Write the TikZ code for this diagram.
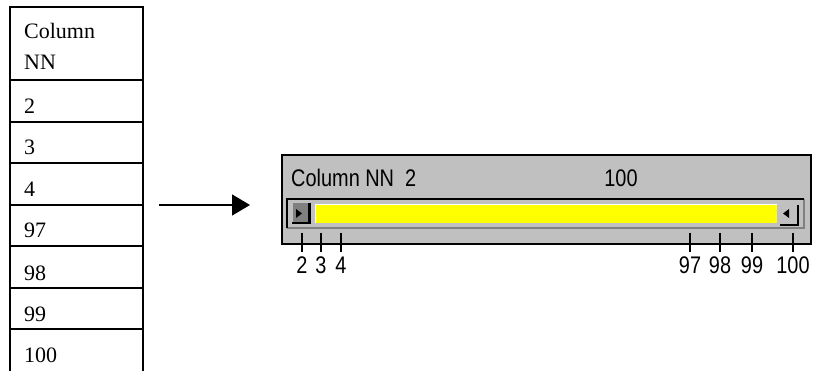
\documentclass[tikz,border=0pt]{standalone}
\usepackage{fontspec}
\setmainfont{Liberation Serif}
\newfontfamily\uifont[FakeStretch=0.83]{Liberation Sans}
\usetikzlibrary{arrows.meta}
\definecolor{wingray}{RGB}{192,192,192}
\definecolor{windark}{RGB}{128,128,128}
\definecolor{winyellow}{RGB}{255,255,0}
\begin{document}
\begin{tikzpicture}[x=1pt,y=-1pt,
  cell/.style={draw, line width=1.6pt, rectangle, minimum width=133pt, inner sep=0pt},
  celltext/.style={anchor=base west, inner sep=0pt, font=\fontsize{22}{26}\selectfont},
  uitext/.style={inner sep=0pt, font=\uifont\fontsize{24}{28}\selectfont},
  tick/.style={line width=1.2pt}]
\useasboundingbox (0,0) rectangle (819,371);
% table
\node[cell, minimum height=73pt] (cell0) at (76.5,43.5){};
\node[cell, minimum height=42pt] (cell1) at (76.5,101){};
\node[cell, minimum height=41pt] (cell2) at (76.5,142.5){};
\node[cell, minimum height=42pt] (cell3) at (76.5,184){};
\node[cell, minimum height=41pt] (cell4) at (76.5,225.5){};
\node[cell, minimum height=42pt] (cell5) at (76.5,267){};
\node[cell, minimum height=41pt] (cell6) at (76.5,308.5){};
\node[cell, minimum height=46pt] (cell7) at (76.5,352){};
\node[celltext] (head1) at (24,39){Column};
\node[celltext] (head2) at (24,70){NN};
\node[celltext] (val2) at (24,114){2};
\node[celltext] (val3) at (24,155){3};
\node[celltext] (val4) at (24,197){4};
\node[celltext] (val97) at (24,238){97};
\node[celltext] (val98) at (24,280){98};
\node[celltext] (val99) at (24,321){99};
\node[celltext] (val100) at (24,362){100};
% arrow
\coordinate (arrowtail) at (159,205);
\coordinate (arrowtip) at (250,205);
\draw[line width=1.3pt, -{Triangle[length=18pt,width=21pt]}](arrowtail) -- (arrowtip);
% scroll bar
\node[draw, line width=1.8pt, fill=wingray, minimum width=529pt, minimum height=89pt, inner sep=0pt] (panel) at (546.5,199.5){};
\node[uitext, anchor=base west] (title) at (291,187){Column NN\ \ 2};
\node[uitext, anchor=base] (maxval) at (621,187){100};
\node[fill=wingray, minimum width=517pt, minimum height=29pt, inner sep=0pt] (track) at (545.5,213.5){};
\draw[line width=1.5pt, windark](track.south west) -- (track.south east) -- (track.north east);
\draw[line width=1.5pt](track.south west) -- (track.north west) -- (track.north east);
\node[fill=winyellow, minimum width=461pt, minimum height=18pt, inner sep=0pt] (bar) at (546.5,214){};
\draw[line width=1pt, white](bar.south west) -- (bar.north west) -- (bar.north east);
\node[fill=windark, minimum width=17pt, minimum height=20pt, inner sep=0pt] (leftbtn) at (301,213){};
\draw[line width=2.5pt](leftbtn.north east) -- (leftbtn.south east) -- (leftbtn.south west);
\fill (296,209) -- (302,213.5) -- (296,218) -- cycle;
\node[fill=wingray, minimum width=18pt, minimum height=20pt, inner sep=0pt] (rightbtn) at (789,215){};
\draw[line width=2.5pt](rightbtn.north east) -- (rightbtn.south east) -- (rightbtn.south west);
\fill (783,213.5) -- (789,209) -- (789,218) -- cycle;
% ticks
\coordinate (tick2) at (302,233);
\coordinate (tick3) at (321,233);
\coordinate (tick4) at (341,233);
\coordinate (tick97) at (690,233);
\coordinate (tick98) at (720,233);
\coordinate (tick99) at (752,233);
\coordinate (tick100) at (793,233);
\draw[tick](tick2) -- ++(0,19);
\draw[tick](tick3) -- ++(0,19);
\draw[tick](tick4) -- ++(0,19);
\draw[tick](tick97) -- ++(0,19);
\draw[tick](tick98) -- ++(0,19);
\draw[tick](tick99) -- ++(0,19);
\draw[tick](tick100) -- ++(0,19);
\node[uitext, anchor=base] (lab2) at (302,273){2};
\node[uitext, anchor=base] (lab3) at (321,273){3};
\node[uitext, anchor=base] (lab4) at (341,273){4};
\node[uitext, anchor=base] (lab97) at (690,273){97};
\node[uitext, anchor=base] (lab98) at (720,273){98};
\node[uitext, anchor=base] (lab99) at (752,273){99};
\node[uitext, anchor=base] (lab100) at (793,273){100};
\end{tikzpicture}
\end{document}
